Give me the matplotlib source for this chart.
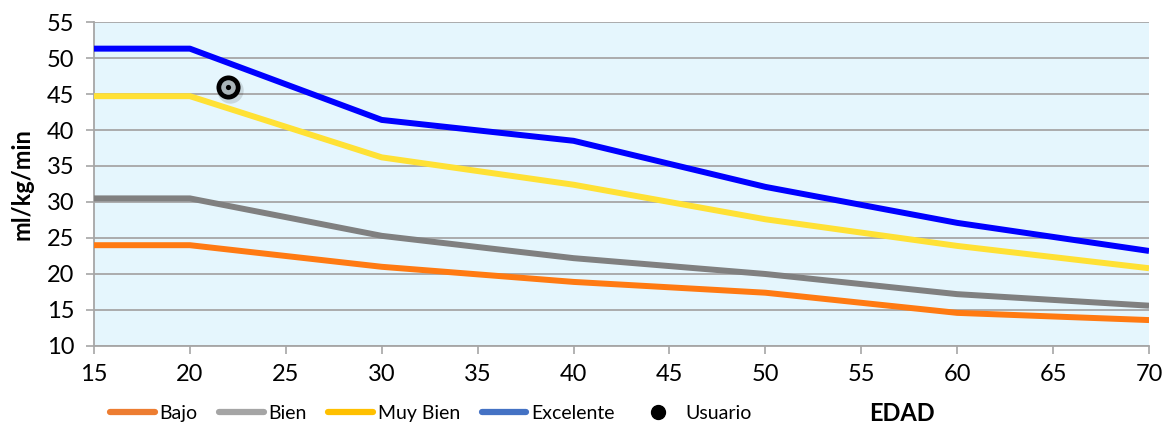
import matplotlib.pyplot as plt
from matplotlib.lines import Line2D

# Data
edad = [15, 20, 30, 40, 50, 60, 70]
bajo = [24.0, 24.0, 21.0, 18.9, 17.4, 14.6, 13.6]
bien = [30.5, 30.5, 25.3, 22.2, 20.0, 17.2, 15.6]
muy_bien = [44.7, 44.7, 36.2, 32.4, 27.6, 23.9, 20.8]
excelente = [51.3, 51.3, 41.4, 38.5, 32.1, 27.1, 23.2]
usuario_x = [22]
usuario_y = [46]

plt.rcParams['font.family'] = ['Lato', 'DejaVu Sans']

fig = plt.figure(figsize=(11.63, 4.29), dpi=100)
ax = fig.add_axes([0.0808, 0.1935, 0.9072, 0.7552])
ax.set_facecolor('#E5F6FD')

series = [
    (bajo, '#FF7A12', '#ED7D31', 'Bajo'),
    (bien, '#808080', '#A5A5A5', 'Bien'),
    (muy_bien, '#FFE135', '#FFC000', 'Muy Bien'),
    (excelente, '#0000FF', '#4472C4', 'Excelente'),
]
for vals, c, _, _ in series:
    ax.plot(edad, vals, color=c, linewidth=4.3, solid_joinstyle='round', solid_capstyle='butt', zorder=3)

# Usuario marker (shadow + ring + dot)
ax.scatter([usuario_x[0] + 0.1], [usuario_y[0] - 0.5], s=360, color='#000000', alpha=0.12, zorder=4, linewidths=0)
ax.scatter(usuario_x, usuario_y, s=300, color='#000000', zorder=5, linewidths=0)
ax.scatter(usuario_x, usuario_y, s=110, color='#A9B4B8', zorder=6, linewidths=0)
ax.scatter(usuario_x, usuario_y, s=14, color='#000000', zorder=7, linewidths=0)

ax.set_xlim(15, 70)
ax.set_ylim(10, 55)
ax.set_xticks(range(15, 71, 5))
ax.set_yticks(range(10, 56, 5))
ax.tick_params(axis='both', labelsize=17, length=6, color='#A6A6A6', width=1.2)
ax.tick_params(axis='x', pad=7)
ax.tick_params(axis='y', pad=8)
ax.grid(axis='y', color='#A6A6A6', linewidth=1.3, zorder=1)
ax.set_axisbelow(True)
for s in ['top', 'right']:
    ax.spines[s].set_visible(False)
ax.spines['left'].set_color('#A6A6A6')
ax.spines['bottom'].set_color('#A6A6A6')
ax.spines['left'].set_linewidth(1.3)
ax.spines['bottom'].set_linewidth(1.3)

ax.set_ylabel('ml/kg/min', fontsize=17, fontweight='bold', labelpad=10)

handles = [Line2D([0], [0], color=lc, linewidth=4.5, solid_capstyle='round') for _, _, lc, _ in series]
handles.append(Line2D([0], [0], marker='o', color='black', linestyle='', markersize=10))
labels = [s[3] for s in series] + ['Usuario']
fig.legend(handles, labels, loc='center left', bbox_to_anchor=(0.0795, 0.037), ncol=5, frameon=False,
           fontsize=14, handlelength=2.3, handletextpad=0.25, columnspacing=1.1)
fig.text(0.7756, 0.037, 'EDAD', fontsize=17, fontweight='bold', ha='center', va='center')

fig.savefig('out.png', dpi=100)
